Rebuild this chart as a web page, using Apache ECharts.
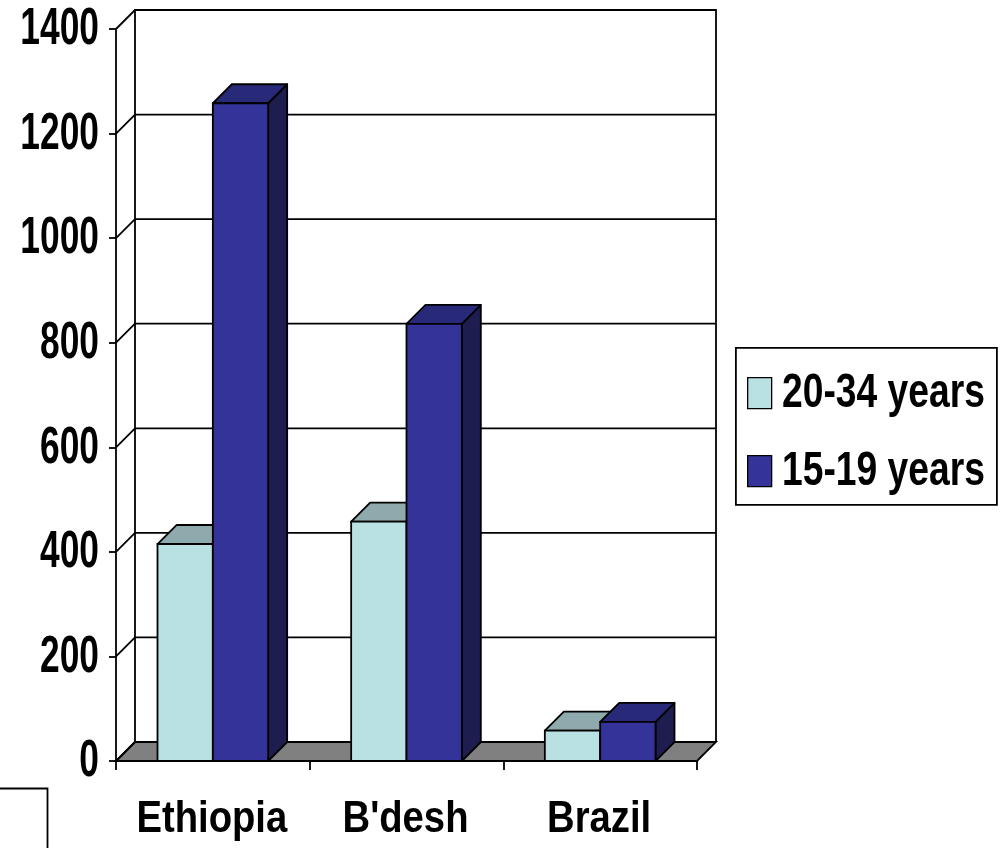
<!DOCTYPE html>
<html>
<head>
<meta charset="utf-8">
<title>Rates by age group</title>
<script src="https://cdn.jsdelivr.net/npm/echarts@6/dist/echarts.min.js"></script>
<style>
  html, body { margin: 0; padding: 0; background: #ffffff; }
  #chart { width: 1001px; height: 848px; }
</style>
</head>
<body>
<div id="chart"></div>
<script>
// ---- data ----
const categories = ['Ethiopia', "B'desh", 'Brazil'];
const seriesNames = ['20-34 years', '15-19 years'];
const values2034 = [415, 458, 58];
const values1519 = [1258, 836, 75];
const yTicks = [0, 200, 400, 600, 800, 1000, 1200, 1400];
const yTickLabels = ['0', '200', '400', '600', '800', '1000', '1200', '1400'];

// ---- style ----
const FONT = 'Liberation Sans, Arial, Helvetica, sans-serif';
const DX = 19, DY = 19;            // depth offset of the 3-D box
const LINE = '#000000';
const LW = 1.8;
const palette = [
  { front: '#b9e0e3', top: '#8eaaac', side: '#7f9c9e' },
  { front: '#333399', top: '#29297a', side: '#1d1d4f' }
];

const chart = echarts.init(document.getElementById('chart'), null, { renderer: 'canvas' });

// back wall, side wall and floor, one item per value tick
function wallRender(params, api) {
  const cs = params.coordSys;
  const left = cs.x, right = cs.x + cs.width;
  const v = api.value(0);
  const y = api.coord([0, v])[1];
  const children = [];
  if (v === 0) {
    children.push({
      type: 'polygon',
      shape: { points: [[left, y], [right, y], [right + DX, y - DY], [left + DX, y - DY]] },
      style: { fill: '#808080', stroke: LINE, lineWidth: LW }
    });
    // back wall frame
    const topY = cs.y - DY;
    children.push({
      type: 'polyline',
      shape: { points: [[left + DX, y - DY], [left + DX, topY], [right + DX, topY], [right + DX, y - DY]] },
      style: { fill: null, stroke: LINE, lineWidth: LW }
    });
    children.push({
      type: 'line',
      shape: { x1: left, y1: y, x2: left + DX, y2: y - DY },
      style: { stroke: LINE, lineWidth: LW }
    });
  } else {
    children.push({
      type: 'line',
      shape: { x1: left + DX, y1: y - DY, x2: right + DX, y2: y - DY },
      style: { stroke: LINE, lineWidth: LW }
    });
    children.push({
      type: 'line',
      shape: { x1: left, y1: y, x2: left + DX, y2: y - DY },
      style: { stroke: LINE, lineWidth: LW }
    });
  }
  return { type: 'group', children };
}

// 3-D box bars: front face, top face, right side face
function makeBarRender(slot) {
  const col = palette[slot];
  return function (params, api) {
    const ci = api.value(0);
    const v = api.value(1);
    const band = api.size([1, 0])[0];
    const bw = band / 3.5;
    const base = api.coord([ci, 0]);
    const top = api.coord([ci, v]);
    const x0 = base[0] - bw + slot * bw;
    const x1 = x0 + bw;
    const yt = top[1], yb = base[1];
    return {
      type: 'group',
      children: [
        {
          type: 'polygon',
          shape: { points: [[x1, yt], [x1 + DX, yt - DY], [x1 + DX, yb - DY], [x1, yb]] },
          style: { fill: col.side, stroke: LINE, lineWidth: LW, lineJoin: 'round' }
        },
        {
          type: 'polygon',
          shape: { points: [[x0, yt], [x0 + DX, yt - DY], [x1 + DX, yt - DY], [x1, yt]] },
          style: { fill: col.top, stroke: LINE, lineWidth: LW, lineJoin: 'round' }
        },
        {
          type: 'rect',
          shape: { x: x0, y: yt, width: bw, height: yb - yt },
          style: { fill: col.front, stroke: LINE, lineWidth: LW }
        }
      ]
    };
  };
}

// condensed bold value labels on the y axis
function yLabelRender(params, api) {
  const i = params.dataIndex;
  const y = api.coord([0, api.value(0)])[1];
  return {
    type: 'text',
    x: params.coordSys.x - 17, y: y + 1,
    scaleX: 0.68,
    style: {
      text: yTickLabels[i], fill: '#000',
      font: 'bold 52px ' + FONT,
      align: 'right', verticalAlign: 'middle'
    }
  };
}

// category names under the floor
function xLabelRender(params, api) {
  const i = params.dataIndex;
  const p = api.coord([i, 0]);
  return {
    type: 'text',
    x: p[0] - 1, y: p[1] + 59,
    scaleX: 0.85,
    style: {
      text: categories[i], fill: '#000',
      font: 'bold 45px ' + FONT,
      align: 'center', verticalAlign: 'middle'
    }
  };
}

// legend box
const legendX = 735, legendY = 347;
const legendItems = seriesNames.map((name, k) => ([
  {
    type: 'rect', left: legendX + 12, top: legendY + 30 + k * 78,
    shape: { width: 24, height: 31 },
    style: { fill: palette[k].front, stroke: LINE, lineWidth: 1.3 }
  },
  {
    type: 'text', x: legendX + 47, y: legendY + 46 + k * 78,
    scaleX: 0.76,
    style: {
      text: name, fill: '#000', font: 'bold 49px ' + FONT,
      align: 'left', verticalAlign: 'middle'
    }
  }
])).flat();

chart.setOption({
  animation: false,
  backgroundColor: '#ffffff',
  grid: { left: 116, right: 304, top: 29, bottom: 87, containLabel: false },
  xAxis: {
    type: 'category',
    data: categories,
    boundaryGap: true,
    axisLine: { show: true, lineStyle: { color: LINE, width: LW } },
    axisTick: { show: true, length: 9, lineStyle: { color: LINE, width: LW } },
    axisLabel: { show: false },
    splitLine: { show: false }
  },
  yAxis: {
    type: 'value',
    min: 0, max: 1400, interval: 200,
    axisLine: { show: true, lineStyle: { color: LINE, width: LW } },
    axisTick: { show: true, length: 7, lineStyle: { color: LINE, width: LW } },
    axisLabel: { show: false },
    splitLine: { show: false }
  },
  series: [
    {
      type: 'custom', name: 'walls', z: 1, silent: true,
      renderItem: wallRender,
      data: yTicks.map(v => [v])
    },
    {
      type: 'custom', name: seriesNames[0], z: 3,
      renderItem: makeBarRender(0),
      data: values2034.map((v, i) => [i, v])
    },
    {
      type: 'custom', name: seriesNames[1], z: 4,
      renderItem: makeBarRender(1),
      data: values1519.map((v, i) => [i, v])
    },
    {
      type: 'custom', name: 'yLabels', z: 5, silent: true,
      renderItem: yLabelRender,
      data: yTicks.map(v => [v])
    },
    {
      type: 'custom', name: 'xLabels', z: 5, silent: true,
      renderItem: xLabelRender,
      data: categories.map((c, i) => [i])
    }
  ],
  graphic: [
    {
      type: 'rect', left: legendX, top: legendY,
      shape: { width: 261, height: 157 },
      style: { fill: '#ffffff', stroke: LINE, lineWidth: LW }
    },
    ...legendItems,
    // frame corner at the lower left
    {
      type: 'rect', left: -10, top: 786,
      shape: { width: 55, height: 100 },
      style: { fill: null, stroke: LINE, lineWidth: LW }
    }
  ]
});
</script>
</body>
</html>
